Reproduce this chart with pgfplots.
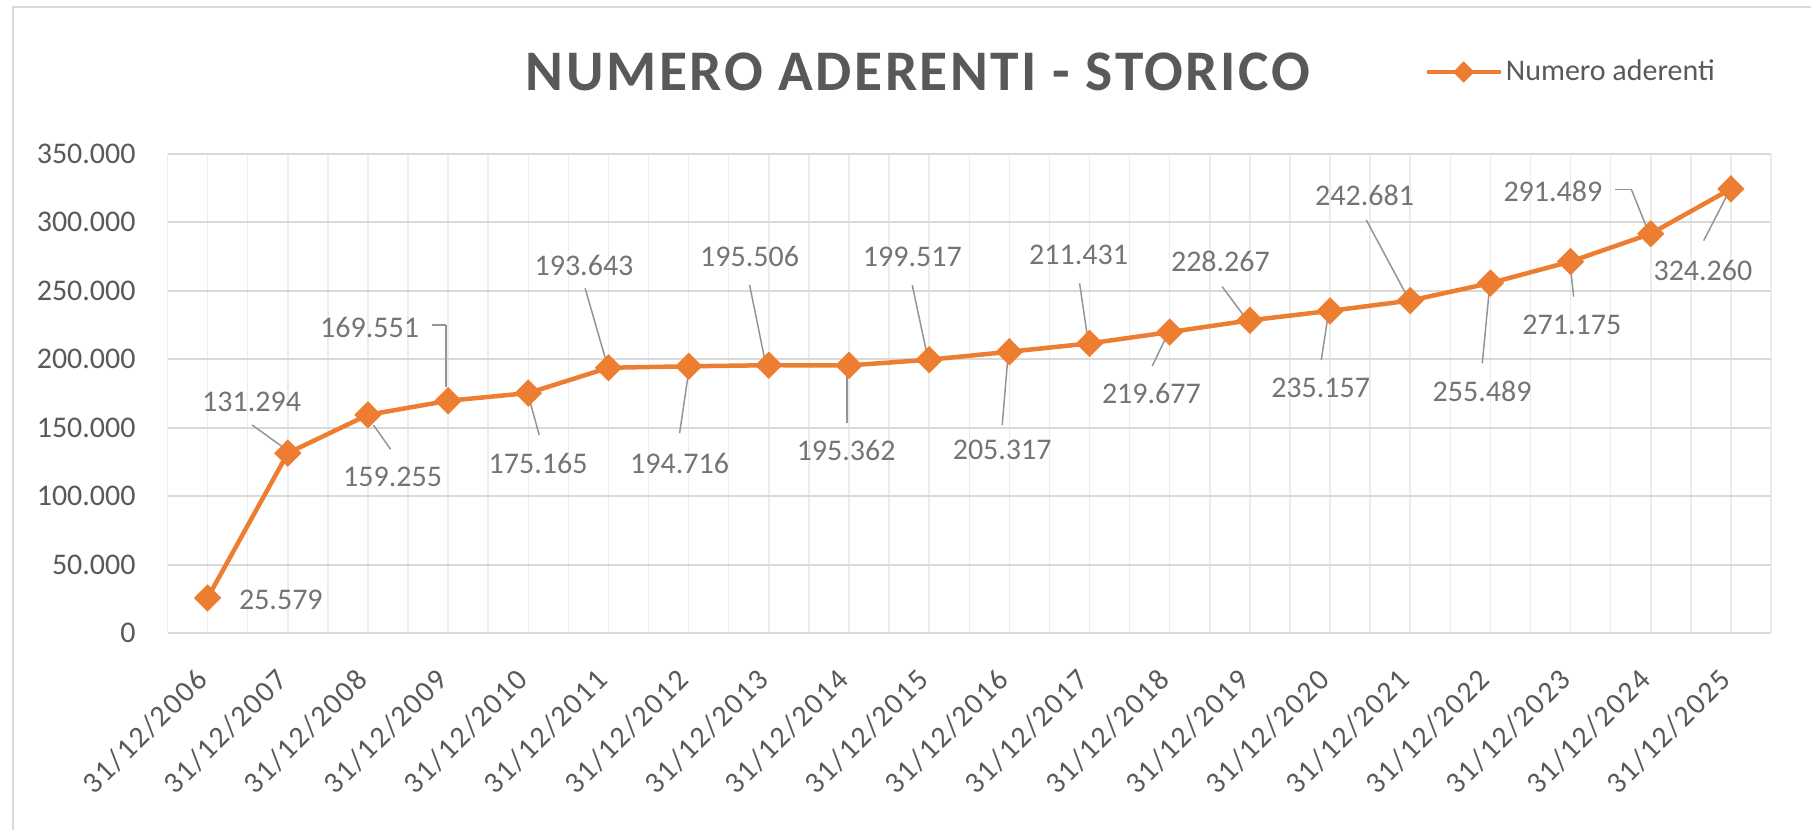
\documentclass[border=0pt]{standalone}
\usepackage{fontspec}
\setmainfont{Carlito}
\newfontfamily\titlefont[LetterSpace=4.5]{Carlito}
\newfontfamily\xfont[LetterSpace=6]{Carlito}
\usepackage{pgfplots}
\usepackage{pgfplotstable}
\pgfplotsset{compat=1.18}
\definecolor{orng}{HTML}{ED7D31}
\definecolor{txtgray}{HTML}{595959}
\definecolor{lblgray}{HTML}{747474}
\definecolor{leadgray}{HTML}{959595}
\definecolor{gridgray}{HTML}{D9D9D9}
\definecolor{vgridgray}{HTML}{ECECEC}

\pgfplotstableread{
x y
0 25579
1 131294
2 159255
3 169551
4 175165
5 193643
6 194716
7 195506
8 195362
9 199517
10 205317
11 211431
12 219677
13 228267
14 235157
15 242681
16 255489
17 271175
18 291489
19 324260
}\dataA

\pgfplotstableread{
x y lab
0.914 24090 25.579
0.549 168870 131.294
2.307 114110 159.255
2.020 223190 169.551
4.122 123890 175.165
4.695 268670 193.643
5.887 123890 194.716
6.760 274730 195.506
7.965 133600 195.362
8.790 274730 199.517
9.911 133600 205.317
10.864 275970 211.431
11.772 175000 219.677
12.633 271080 228.267
13.883 178650 235.157
14.431 319780 242.681
15.897 176170 255.489
17.016 224860 271.175
16.780 322190 291.489
18.651 265020 324.260
}\labs

\pgfplotstableread{
x y u v
0.556 151860 0.392 -16570
2.283 134120 -0.214 17740
2.799 224870 0.177 0
2.976 224870 0 -45050
4.136 144560 -0.120 25550
4.709 251660 0.258 -52340
5.887 145800 0.110 43800
6.760 254070 0.191 -54760
7.978 153100 0 38910
8.789 254070 0.177 -48700
9.911 151860 0.071 49860
10.876 255310 0.095 -37750
11.782 194930 0.157 18980
12.655 252830 0.263 -20660
13.891 199310 0.082 31610
14.452 301520 0.490 -53520
15.899 196900 0.091 55920
17.038 245530 -0.041 23140
17.550 323940 0.208 0
17.758 323940 0.187 -27300
18.660 286410 0.283 32120
}\leads

\begin{document}
\begin{tikzpicture}
\draw[gridgray, line width=1pt] (6.5pt,0pt) -- (6.5pt,411.5pt) -- (905.5pt,411.5pt);
\node[font=\titlefont\bfseries\fontsize{28.7}{32}\selectfont, text=txtgray] at (459pt,379pt) {NUMERO ADERENTI - STORICO};
\begin{axis}[
  at={(83.75pt,98.5pt)}, anchor=south west,
  scale only axis, width=801.75pt, height=239.7pt,
  xmin=-0.5, xmax=19.5, ymin=0, ymax=350000,
  axis line style={draw=none},
  major tick length=0pt, minor tick length=0pt,
  xtick={0,...,19},
  xticklabels={31/12/2006,31/12/2007,31/12/2008,31/12/2009,31/12/2010,31/12/2011,31/12/2012,31/12/2013,31/12/2014,31/12/2015,31/12/2016,31/12/2017,31/12/2018,31/12/2019,31/12/2020,31/12/2021,31/12/2022,31/12/2023,31/12/2024,31/12/2025},
  minor xtick={-0.5,0.5,...,19.5},
  ytick={0,50000,...,350000},
  yticklabels={0,50.000,100.000,150.000,200.000,250.000,300.000,350.000},
  scaled y ticks=false,
  xmajorgrids, xminorgrids, ymajorgrids,
  major x grid style={vgridgray, line width=0.75pt},
  minor x grid style={vgridgray, line width=0.75pt},
  major y grid style={gridgray, line width=1pt},
  yticklabel style={font=\fontsize{15}{18}\selectfont, text=txtgray, anchor=east, inner sep=0pt, xshift=-15.75pt},
  xticklabel style={font=\xfont\fontsize{15}{18}\selectfont, text=txtgray, xshift=-2.7pt, yshift=-20.7pt, rotate=45, anchor=east, inner sep=0pt},
  legend style={draw=none, fill=none, inner sep=0pt, at={(axis description cs:0.7836,1.1702)}, anchor=west, font=\fontsize{15}{18}\selectfont, text=txtgray, nodes={inner sep=0pt}},
  legend image code/.code={\draw[mark repeat=2,mark phase=2,mark size=3.75pt] plot coordinates {(0pt,0pt) (18.5pt,0pt) (37pt,0pt)};},
]
\addplot[leadgray, line width=0.75pt, quiver={u=\thisrow{u}, v=\thisrow{v}}, mark=none, forget plot] table {\leads};
\addplot[orng, line width=2.25pt, mark=diamond*, mark size=5.25pt, mark options={solid, fill=orng, xscale=1.33}] table {\dataA};
\addlegendentry{\hspace{1.5pt}Numero aderenti}
\addplot[draw=none, mark=none, nodes near coords, point meta=explicit symbolic, nodes near coords style={anchor=center, font=\fontsize{15}{18}\selectfont, text=lblgray, inner sep=0pt}, forget plot] table[meta=lab] {\labs};
\end{axis}
\pgfresetboundingbox
\path (0pt,0pt) rectangle (905.5pt,415pt);
\end{tikzpicture}
\end{document}
